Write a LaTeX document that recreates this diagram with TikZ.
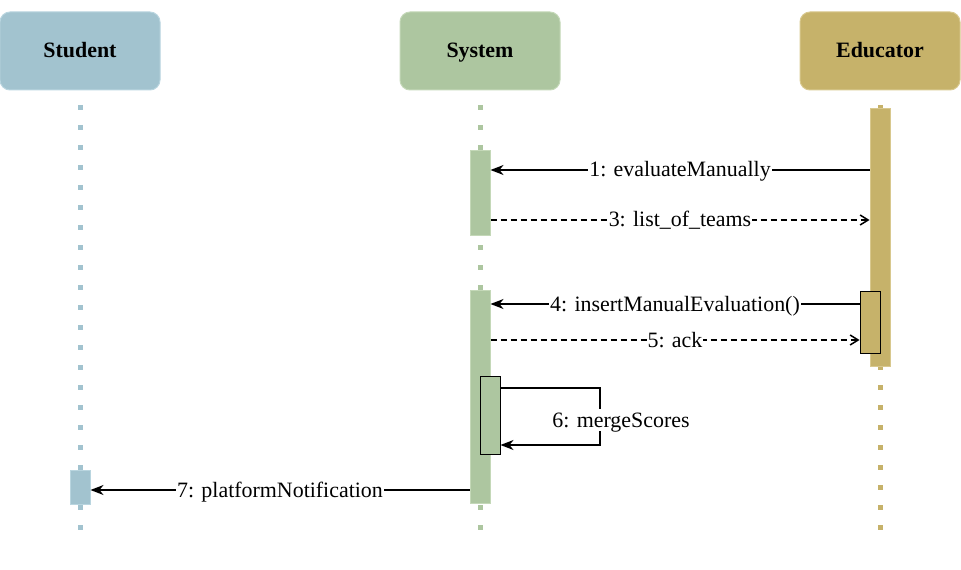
\documentclass[tikz,border=0pt]{standalone}
\usepackage{fontspec}
\setmainfont{Liberation Serif}
\usetikzlibrary{arrows.meta}

\definecolor{studentblue}{HTML}{A2C3CF}
\definecolor{studentline}{HTML}{B9D5DF}
\definecolor{systemgreen}{HTML}{ADC6A0}
\definecolor{systemline}{HTML}{C4D8B8}
\definecolor{educatorgold}{HTML}{C6B26A}
\definecolor{educatorline}{HTML}{D8C88E}

\tikzset{
    actor/.style={rounded corners=10bp, minimum width=160bp, minimum height=78bp,
        inner sep=0pt, line width=1bp, text height=17bp, text depth=4bp,
        font=\fontsize{22}{26}\selectfont\bfseries},
    lifeline/.style={line width=5bp, dash pattern=on 5bp off 15bp},
    activation/.style={anchor=north, minimum width=20bp, inner sep=0pt, line width=1bp},
    msg/.style={line width=1.5bp, -{Stealth[length=13bp, width=10bp, inset=4bp]}},
    reply/.style={line width=1.5bp, dash pattern=on 6bp off 4bp,
        -{Straight Barb[length=8bp, width=10bp]}},
    msglabel/.style={fill=white, inner sep=1bp, text height=17bp, text depth=3bp,
        font=\fontsize{22}{26}\selectfont}
}

\begin{document}
\begin{tikzpicture}[x=1bp, y=-1bp]
    \useasboundingbox (0,0) rectangle (961,570);

    % Actors
    \node[actor, fill=studentblue, draw=studentline] (student) at (80,51) {Student};
    \node[actor, fill=systemgreen, draw=systemline] (system) at (480,51) {System};
    \node[actor, fill=educatorgold, draw=educatorline] (educator) at (880,51) {Educator};

    % Lifelines
    \draw[lifeline, studentblue] (student.south |- 0,105) -- (student.south |- 0,530);
    \draw[lifeline, systemgreen] (system.south |- 0,105) -- (system.south |- 0,530);
    \draw[lifeline, educatorgold] (educator.south |- 0,105) -- (educator.south |- 0,530);

    % Activations
    \node[activation, minimum height=258bp, fill=educatorgold, draw=educatorline] (eduact) at (880,108) {};
    \node[activation, minimum height=62bp, fill=educatorgold, draw=black] (edunest) at (870,291) {};
    \node[activation, minimum height=85bp, fill=systemgreen, draw=systemline] (sysact1) at (480,150) {};
    \node[activation, minimum height=213bp, fill=systemgreen, draw=systemline] (sysact2) at (480,290) {};
    \node[activation, minimum height=78bp, fill=systemgreen, draw=black] (sysnest) at (490,376) {};
    \node[activation, minimum height=34bp, fill=studentblue, draw=studentline] (stuact) at (80,470) {};

    % Messages
    \draw[msg] (eduact.west |- 0,170) -- node[msglabel] {1: evaluateManually} (sysact1.east |- 0,170);
    \draw[reply] (sysact1.east |- 0,220) -- node[msglabel] {3: list\_of\_teams} (eduact.west |- 0,220);
    \draw[msg] (edunest.west |- 0,304) -- node[msglabel] {4: insertManualEvaluation()} (sysact2.east |- 0,304);
    \draw[reply] (sysact2.east |- 0,340) -- node[msglabel] {5: ack} (edunest.west |- 0,340);

    % Self call
    \coordinate (loop) at (600,388);
    \draw[msg] (sysnest.east |- loop) -- (loop) -- (loop |- 0,445) -- (sysnest.east |- 0,445);
    \node[msglabel] (merge) at (621,420) {6: mergeScores};

    \draw[msg] (sysact2.west |- 0,490) -- node[msglabel] {7: platformNotification} (stuact.east |- 0,490);
\end{tikzpicture}
\end{document}
